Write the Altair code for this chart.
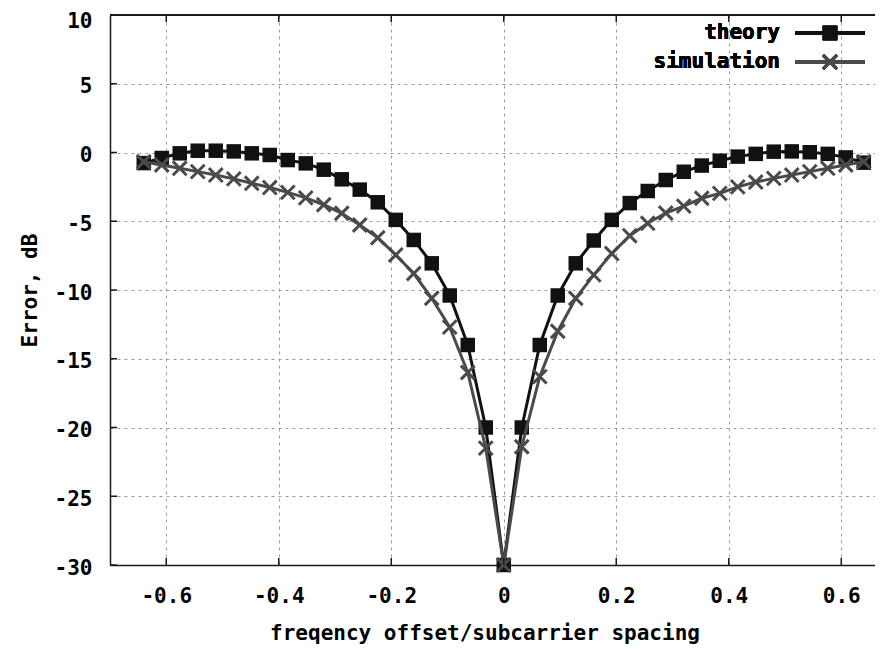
import altair as alt
import pandas as pd

# ---- data ----
offsets = [-0.64, -0.608, -0.576, -0.544, -0.512, -0.48, -0.448, -0.416, -0.384, -0.352,
           -0.32, -0.288, -0.256, -0.224, -0.192, -0.16, -0.128, -0.096, -0.064, -0.032,
           0.0,
           0.032, 0.064, 0.096, 0.128, 0.16, 0.192, 0.224, 0.256, 0.288, 0.32,
           0.352, 0.384, 0.416, 0.448, 0.48, 0.512, 0.544, 0.576, 0.608, 0.64]

theory = [-0.77, -0.4, -0.06, 0.13, 0.13, 0.08, -0.06, -0.18, -0.55, -0.79,
          -1.25, -1.95, -2.7, -3.62, -4.9, -6.36, -8.06, -10.4, -14.0, -20.0,
          -30.0,
          -20.0, -14.0, -10.4, -8.06, -6.4, -4.9, -3.68, -2.8, -2.0, -1.4,
          -0.95, -0.6, -0.3, -0.1, 0.06, 0.08, 0.02, -0.1, -0.36, -0.74]

simulation = [-0.67, -0.91, -1.15, -1.39, -1.64, -1.92, -2.24, -2.55, -2.9, -3.3,
              -3.8, -4.42, -5.27, -6.2, -7.45, -8.8, -10.6, -12.7, -16.0, -21.5,
              -30.0,
              -21.4, -16.3, -13.0, -10.6, -8.9, -7.35, -6.05, -5.15, -4.4, -3.9,
              -3.33, -2.97, -2.5, -2.15, -1.88, -1.64, -1.39, -1.15, -0.91, -0.67]

x_ticks = [-0.6, -0.4, -0.2, 0, 0.2, 0.4, 0.6]
y_ticks = [-30, -25, -20, -15, -10, -5, 0, 5, 10]

series_names = ["theory", "simulation"]
x_title = "freqency offset/subcarrier spacing"
y_title = "Error, dB"

# ---- styling ----
W, H = 765, 550
FONT = "DejaVu Sans Mono"
FS = 21
BLACK = "#111111"
GRAY = "#4a4a4a"
BORDER = "#1a1a1a"
GRID = "#9a9a9a"

df_theory = pd.DataFrame({"offset": offsets, "value": theory})
df_sim = pd.DataFrame({"offset": offsets, "value": simulation})
df_xt = pd.DataFrame({"offset": x_ticks})
df_yt = pd.DataFrame({"value": y_ticks})

x_scale = alt.Scale(domain=[-0.7, 0.66], nice=False, zero=False)
y_scale = alt.Scale(domain=[-30, 10], nice=False, zero=False)

x_axis = alt.Axis(
    values=x_ticks, grid=True, gridColor=GRID, gridDash=[3, 4], gridWidth=1,
    ticks=False, tickSize=0, domain=True, domainColor=BORDER, domainWidth=1.5,
    labelFont=FONT, labelFontSize=FS, labelFontWeight="bold", labelColor="#000000",
    labelExpr="'' + datum.value", labelPadding=37, labelBaseline="alphabetic",
    title=x_title, titleFont=FONT, titleFontSize=FS, titleFontWeight="bold",
    titleColor="#000000", titleX=W / 2 - 8, titleY=74, titleBaseline="alphabetic",
    titleAlign="center",
)
y_axis = alt.Axis(
    values=y_ticks, grid=True, gridColor=GRID, gridDash=[3, 4], gridWidth=1,
    ticks=False, tickSize=0, domain=True, domainColor=BORDER, domainWidth=1.5,
    labelFont=FONT, labelFontSize=FS, labelFontWeight="bold", labelColor="#000000",
    labelExpr="'' + datum.value", labelPadding=18, labelBaseline="middle",
    labelOffset={"condition": {"test": "datum.value == 10", "value": 6}, "value": 3},
    title=y_title, titleFont=FONT, titleFontSize=FS, titleFontWeight="bold",
    titleColor="#000000", titleX=-74, titleY=H / 2, titleAngle=270,
    titleBaseline="alphabetic", titleAlign="center",
)


def X(field):
    return alt.X(field, type="quantitative", scale=x_scale, axis=x_axis)


def Y(field):
    return alt.Y(field, type="quantitative", scale=y_scale, axis=y_axis)


CROSS = "M-1,-1L1,1M-1,1L1,-1"

theory_line = alt.Chart(df_theory).mark_line(color=BLACK, strokeWidth=3).encode(
    x=X("offset"), y=Y("value"))
theory_pts = alt.Chart(df_theory).mark_point(
    shape="square", filled=True, size=210, color=BLACK, opacity=1).encode(
    x=X("offset"), y=Y("value"))
sim_line = alt.Chart(df_sim).mark_line(color=GRAY, strokeWidth=3).encode(
    x=X("offset"), y=Y("value"))
sim_pts = alt.Chart(df_sim).mark_point(
    shape=CROSS, filled=False, size=190, color=GRAY, strokeWidth=3, opacity=1).encode(
    x=X("offset"), y=Y("value"))

# inward ticks (gnuplot style) and top border
bottom_ticks = alt.Chart(df_xt).mark_rule(color=BORDER, strokeWidth=1.5).encode(
    x=X("offset"), y=alt.value(H), y2=alt.value(H - 7))
top_ticks = alt.Chart(df_xt).mark_rule(color=BORDER, strokeWidth=1.5).encode(
    x=X("offset"), y=alt.value(0), y2=alt.value(7))
left_ticks = alt.Chart(df_yt).mark_rule(color=BORDER, strokeWidth=1.5).encode(
    y=Y("value"), x=alt.value(0), x2=alt.value(7))
top_border = alt.Chart(df_xt).mark_rule(color=BORDER, strokeWidth=1.5).encode(
    x=alt.value(0), x2=alt.value(W), y=alt.value(0))

# legend (gnuplot style: label left, sample right)
leg_rows = [18, 47]
leg_layers = []
for name, col, shape, filled, row in [
        (series_names[0], BLACK, "square", True, leg_rows[0]),
        (series_names[1], GRAY, CROSS, False, leg_rows[1])]:
    leg_layers.append(alt.Chart(df_xt).mark_text(
        text=name, font=FONT, fontSize=FS, fontWeight="bold", color="#000000",
        align="right", baseline="middle").encode(
        x=alt.value(670), y=alt.value(row)))
    leg_layers.append(alt.Chart(df_xt).mark_rule(color=col, strokeWidth=3).encode(
        x=alt.value(685), x2=alt.value(755), y=alt.value(row)))
    leg_layers.append(alt.Chart(df_xt).mark_point(
        shape=shape, filled=filled, size=210 if filled else 190, color=col,
        strokeWidth=3, opacity=1).encode(x=alt.value(720), y=alt.value(row)))

chart = alt.layer(
    theory_line, theory_pts, sim_line, sim_pts,
    bottom_ticks, top_ticks, left_ticks, top_border, *leg_layers
).properties(
    width=W, height=H,
    autosize=alt.AutoSizeParams(type="none"),
    padding={"left": 102, "top": 7, "right": 0, "bottom": 82},
    background="#ffffff",
).configure_view(strokeWidth=0)

chart.save("out.html", embed_options={"renderer": "svg", "actions": False})
